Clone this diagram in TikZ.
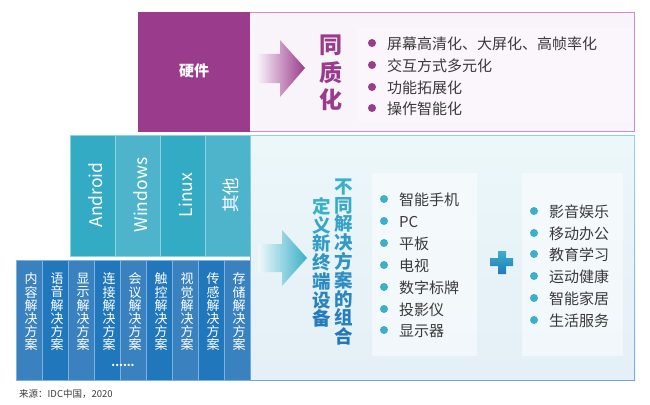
\documentclass[tikz,border=0pt]{standalone}
\usepackage{fontspec}
\setmainfont{Noto Sans CJK SC}
\definecolor{hwpurple}{HTML}{9B3B8B}
\definecolor{hwlight}{HTML}{F9F3FA}
\definecolor{hwedge}{HTML}{CF8BCB}
\definecolor{osdark}{HTML}{33ABC5}
\definecolor{oslight}{HTML}{4DB4CB}
\definecolor{osedge}{HTML}{8CD2E0}
\definecolor{soldark}{HTML}{2177BB}
\definecolor{sollight}{HTML}{3A82BF}
\definecolor{soledge}{HTML}{7FB2DC}
\definecolor{listtext}{HTML}{3A3A3A}
\definecolor{teal}{HTML}{3BB0C9}
\definecolor{deep}{HTML}{2378BC}

\tikzstyle{every picture}+=[x=1pt, y=-1pt]
\tikzstyle{osblock}=[draw=osedge, line width=0.8pt, minimum width=45pt, minimum height=121pt, inner sep=0pt]
\tikzstyle{oslabel}=[inner sep=0pt, text=white, rotate=90, font=\fontsize{17.5}{17.5}\selectfont]
\tikzstyle{solblock}=[draw=soledge, line width=0.8pt, minimum width=26pt, minimum height=120pt, inner sep=0pt]
\tikzstyle{solstack}=[align=center, inner sep=0pt, text=white, font=\fontsize{13}{13.2}\selectfont]
\tikzstyle{dot}=[circle, minimum size=8pt, inner sep=0pt]
\tikzstyle{item}=[anchor=west, inner sep=0pt, text=listtext, font=\fontsize{15}{15}\selectfont]

\begin{document}
\begin{tikzpicture}
	\newcommand\osbox[4]{
		\node[osblock, fill=#4] (#1) at (#2,195.5) {} ;
		\node[oslabel] (#1text) at ({#2+3.5},195) {#3} ;
	}
	\newcommand\solbox[4]{
		\node[solblock, fill=#3] (#1) at (#2,320) {} ;
		\node[solstack] (#1text) at ({#2+2},312) {#4} ;
	}
	\newcommand\listitem[5]{
		\node[dot, fill=#4] (#1dot) at (#2,#3) {} ;
		\node[item] (#1) at ({#2+15},{#3+1.2}) {#5} ;
	}
	\newcommand\gc[2]{\textcolor{teal!#1!deep}{#2}}

	\useasboundingbox (0,0) rectangle (650,404) ;

	% hardware row
	\fill[hwedge] (138,12) rectangle (635,132) ;
	\fill[hwlight] (139,13) rectangle (634,131) ;
	\node[fill=hwpurple, minimum width=112pt, minimum height=120pt, inner sep=0pt] (hardware) at (194,72) {} ;
	\node[text=white, font=\fontsize{15}{15}\bfseries\selectfont] (hardwaretext) at (194,71) {硬件} ;
	\shade[left color=hwlight, right color=hwpurple]
		(257,54) -- (280,54) -- (280,40) -- (305,68) -- (280,97) -- (280,83) -- (257,83) -- cycle ;
	\node[align=center, inner sep=0pt, text=hwpurple, font=\fontsize{23}{27.5}\bfseries\selectfont] (same) at (331,73) {同\\质\\化} ;
	\fill[white, opacity=0.3] (358,28) rectangle (632,122) ;
	\listitem{hwa}{372}{43}{hwpurple}{屏幕高清化、大屏化、高帧率化}
	\listitem{hwb}{372}{65}{hwpurple}{交互方式多元化}
	\listitem{hwc}{372}{87}{hwpurple}{功能拓展化}
	\listitem{hwd}{372}{108}{hwpurple}{操作智能化}

	% operating systems
	\osbox{android}{92.5}{Android}{osdark}
	\osbox{windows}{137.5}{Windows}{oslight}
	\osbox{linux}{182.5}{Linux}{osdark}
	\osbox{other}{227.5}{其他}{oslight}

	% solutions
	\solbox{content}{29}{sollight}{内\\容\\解\\决\\方\\案}
	\solbox{voice}{55}{soldark}{语\\音\\解\\决\\方\\案}
	\solbox{display}{81}{sollight}{显\\示\\解\\决\\方\\案}
	\solbox{connect}{107}{soldark}{连\\接\\解\\决\\方\\案}
	\solbox{meeting}{133}{sollight}{会\\议\\解\\决\\方\\案}
	\solbox{touch}{159}{soldark}{触\\控\\解\\决\\方\\案}
	\solbox{vision}{185}{sollight}{视\\觉\\解\\决\\方\\案}
	\solbox{sensor}{211}{soldark}{传\\感\\解\\决\\方\\案}
	\solbox{storage}{237}{sollight}{存\\储\\解\\决\\方\\案}
	\node[inner sep=0pt, text=white, font=\fontsize{11}{11}\bfseries\selectfont] (more) at (123,365) {......} ;

	% new device panel
	\shade[top color=osedge, bottom color=soledge!80!deep] (250,135) rectangle (635,380) ;
	\shade[top color=teal!10, bottom color=deep!12] (251,136) rectangle (634,379) ;
	\shade[left color=teal!8, right color=teal]
		(258,244) -- (282,244) -- (282,230) -- (307,258) -- (282,286) -- (282,272) -- (258,272) -- cycle ;
	\node[align=center, inner sep=0pt, font=\fontsize{18.5}{18.8}\bfseries\selectfont] (combine) at (344,262) {\gc{100}{不}\\\gc{88}{同}\\\gc{75}{解}\\\gc{63}{决}\\\gc{50}{方}\\\gc{38}{案}\\\gc{25}{的}\\\gc{13}{组}\\\gc{0}{合}} ;
	\node[align=center, inner sep=0pt, font=\fontsize{18.5}{18.7}\bfseries\selectfont] (define) at (322,262.5) {\gc{100}{定}\\\gc{84}{义}\\\gc{68}{新}\\\gc{52}{终}\\\gc{36}{端}\\\gc{20}{设}\\\gc{5}{备}} ;
	\fill[white, opacity=0.5] (372,173) rectangle (477,356) ;
	\listitem{phone}{384}{199}{teal}{智能手机}
	\listitem{pc}{384}{221}{teal}{PC}
	\listitem{tablet}{384}{243}{teal}{平板}
	\listitem{tv}{384}{265}{teal}{电视}
	\listitem{signage}{384}{287}{teal}{数字标牌}
	\listitem{projector}{384}{309}{teal}{投影仪}
	\listitem{monitor}{384}{330}{teal}{显示器}
	\shade[top color=teal, bottom color=deep]
		(498,251) -- (506,251) -- (506,258) -- (513,258) -- (513,266) -- (506,266) -- (506,274) -- (498,274) -- (498,266) -- (490,266) -- (490,258) -- (498,258) -- cycle ;
	\fill[white, opacity=0.5] (522,173) rectangle (623,356) ;
	\listitem{media}{534}{211}{teal}{影音娱乐}
	\listitem{office}{534}{233}{teal}{移动办公}
	\listitem{study}{534}{254}{teal}{教育学习}
	\listitem{sport}{534}{276}{teal}{运动健康}
	\listitem{home}{534}{298}{teal}{智能家居}
	\listitem{life}{534}{320}{teal}{生活服务}

	\node[anchor=west, inner sep=0pt, text=listtext, font=\fontsize{9.5}{9.5}\selectfont] (source) at (19,394) {来源：IDC中国，2020} ;
\end{tikzpicture}
\end{document}
